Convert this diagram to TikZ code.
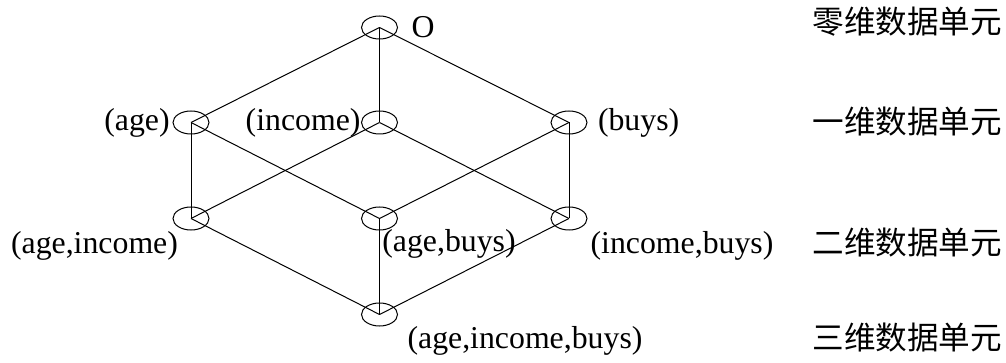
\documentclass[tikz,border=0pt]{standalone}
\usepackage{fontspec}
\setmainfont{Liberation Serif}
\newfontfamily\cjk{Noto Sans CJK SC}
\usetikzlibrary{positioning,shapes.geometric}

\begin{document}
\begin{tikzpicture}[x=0.5pt, y=-0.5pt, line width=0.5pt,
    cell/.style={ellipse, draw, inner sep=0pt, minimum width=18pt, minimum height=11.5pt},
    lbl/.style={inner sep=0pt, font=\fontsize{15.9pt}{19pt}\selectfont},
    levellbl/.style={inner sep=0pt, anchor=west, font=\fontsize{15.8pt}{19pt}\selectfont\cjk}]
    \useasboundingbox (0,0) rectangle (1006,363);

    % Cells
    \node[cell] (o) at (379.5, 27.5) {};
    \node[cell] (age) at (191, 122.5) {};
    \node[cell] (inc) at (379.5, 122.5) {};
    \node[cell] (buys) at (569, 122.5) {};
    \node[cell] (ageinc) at (191, 218.5) {};
    \node[cell] (agebuys) at (379.5, 218.5) {};
    \node[cell] (incbuys) at (569, 218.5) {};
    \node[cell] (all) at (379.5, 314.5) {};

    % Lattice edges
    \foreach \a/\b in {o/age, o/inc, o/buys, age/ageinc, age/agebuys, inc/ageinc,
                       inc/incbuys, buys/agebuys, buys/incbuys, ageinc/all,
                       agebuys/all, incbuys/all}
        \draw (\a.center) -- (\b.center);

    % Cell labels
    \node[lbl, right=6.5pt of o] (lo) {O};
    \node[lbl, left=1.2pt of age] (lage) {(age)};
    \node[lbl, left=0pt of inc] (linc) {(income)};
    \node[lbl, right=5pt of buys] (lbuys) {(buys)};
    \node[lbl] (lageinc) at (94.5, 246) {(age,income)};
    \node[lbl] (lagebuys) at (449, 244) {(age,buys)};
    \node[lbl] (lincbuys) at (682, 246) {(income,buys)};
    \node[lbl] (lall) at (525, 341) {(age,income,buys)};

    % Level labels
    \node[levellbl] (lv0) at (812, 22) {零维数据单元};
    \node[levellbl] (lv1) at (812, 122) {一维数据单元};
    \node[levellbl] (lv2) at (812, 243) {二维数据单元};
    \node[levellbl] (lv3) at (812, 338) {三维数据单元};
\end{tikzpicture}
\end{document}
